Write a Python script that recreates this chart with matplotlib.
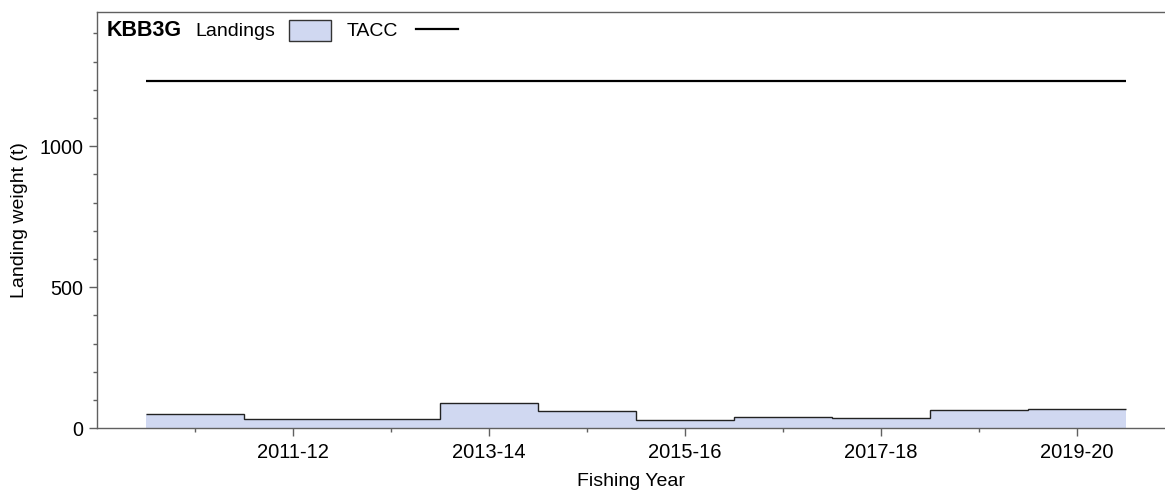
import numpy as np
import matplotlib
matplotlib.use("Agg")
import matplotlib.pyplot as plt
from matplotlib.patches import Rectangle
from matplotlib.lines import Line2D
from matplotlib.ticker import MultipleLocator

plt.rcParams['font.family'] = ['Liberation Sans', 'DejaVu Sans']

# ---- data ----
years = ["2010-11", "2011-12", "2012-13", "2013-14", "2014-15",
         "2015-16", "2016-17", "2017-18", "2018-19", "2019-20"]
landings = [51, 32, 34, 91, 60, 28, 40, 37.5, 65, 70]
tacc = [1233] * 10
stock = "KBB3G"

W, H = 1165, 492
fig = plt.figure(figsize=(W / 100, H / 100), dpi=100)
ax = fig.add_axes([97 / W, (H - 428.3) / H, 1 - 97 / W, (428.3 - 12) / H])

edges = np.arange(len(years) + 1) - 0.5
fill_col = "#D0D8F1"
spine_col = "#606060"

ax.stairs(landings, edges, fill=True, color=fill_col, baseline=0)
ax.stairs(landings, edges, baseline=None, color="#222222", lw=1.0)
ax.stairs(tacc, edges, baseline=None, color="black", lw=1.6)

ax.set_xlim(-1.005, 9.9)
ax.set_ylim(0, 1476)

major_idx = [1, 3, 5, 7, 9]
ax.set_xticks(major_idx)
ax.set_xticklabels([years[i] for i in major_idx])
ax.set_xticks([0, 2, 4, 6, 8], minor=True)
ax.yaxis.set_major_locator(MultipleLocator(500))
ax.yaxis.set_minor_locator(MultipleLocator(100))

ax.tick_params(axis='both', which='major', length=5.8, width=1, color=spine_col,
               labelsize=14.5, pad=5)
ax.tick_params(axis='both', which='minor', length=3, width=1, color=spine_col)
ax.tick_params(axis='y', which='major', pad=4, labelsize=14.2)

for s in ['left', 'bottom', 'top']:
    ax.spines[s].set_color(spine_col)
    ax.spines[s].set_linewidth(1.0)
ax.spines['right'].set_visible(False)

ax.set_xlabel("Fishing Year", fontsize=14, labelpad=8)
ax.set_ylabel("Landing weight (t)", fontsize=14, labelpad=8)

# ---- legend drawn in figure pixel coordinates ----
def px(x, y):
    return (x / W, 1 - y / H)

fig.text(*px(107, 31), stock, fontsize=15.5, fontweight='bold', va='center', ha='left')
fig.text(*px(195, 31), "Landings", fontsize=14, va='center', ha='left')
x0, y0 = px(289, 41)
fig.add_artist(Rectangle((x0, y0), 42 / W, 21 / H, transform=fig.transFigure,
                         facecolor=fill_col, edgecolor="#333333", lw=1.0))
fig.text(*px(347, 31), "TACC", fontsize=14, va='center', ha='left')
lx0, ly = px(416, 28.5)
lx1, _ = px(458, 28.5)
fig.add_artist(Line2D([lx0, lx1], [ly, ly], transform=fig.transFigure,
                      color="black", lw=1.6))

fig.savefig("out.png", dpi=100)
